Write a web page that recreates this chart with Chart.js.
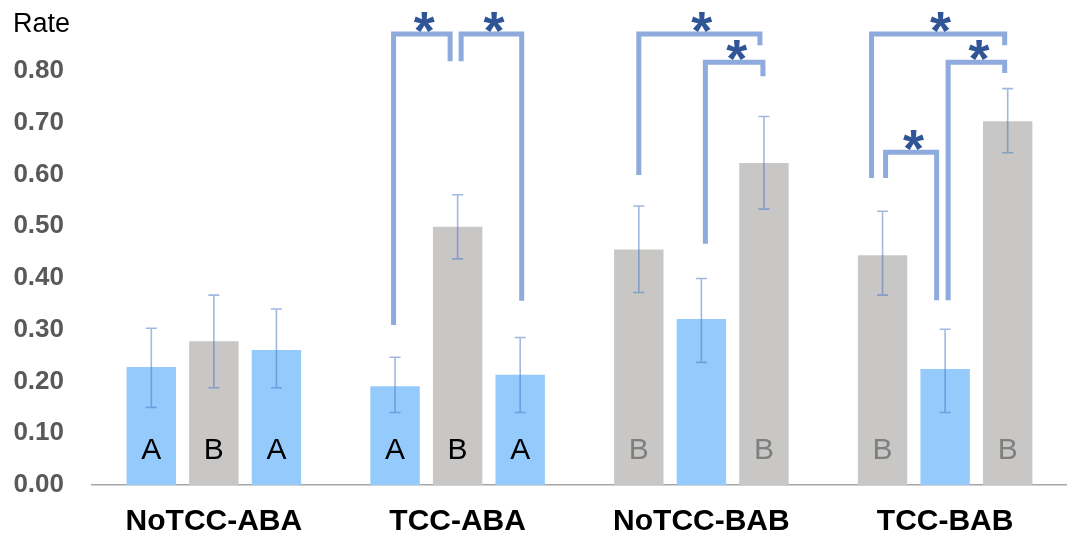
<!DOCTYPE html>
<html>
<head>
<meta charset="utf-8">
<script src="https://cdn.jsdelivr.net/npm/chart.js@4.4.1/dist/chart.umd.min.js"></script>
<style>
html,body{margin:0;padding:0;background:#ffffff;}
#wrap{width:1067px;height:538px;position:relative;}
</style>
</head>
<body>
<div id="wrap"><canvas id="c"></canvas></div>
<script>
// ---- data ----
const categories = ['NoTCC-ABA', 'TCC-ABA', 'NoTCC-BAB', 'TCC-BAB'];
const bar1Values = [0.228, 0.191, 0.455, 0.444];
const bar2Values = [0.278, 0.499, 0.321, 0.224];
const bar3Values = [0.261, 0.213, 0.622, 0.703];
// error whisker ends (upper / lower)
const bar1Upper = [0.303, 0.247, 0.539, 0.529];
const bar1Lower = [0.150, 0.140, 0.372, 0.367];
const bar2Upper = [0.367, 0.561, 0.399, 0.301];
const bar2Lower = [0.188, 0.437, 0.237, 0.140];
const bar3Upper = [0.340, 0.285, 0.712, 0.766];
const bar3Lower = [0.188, 0.140, 0.533, 0.642];
// letters inside bars
const bar1Letters = ['A', 'A', 'B', 'B'];
const bar2Letters = ['B', 'B', '', ''];
const bar3Letters = ['A', 'A', 'B', 'B'];
// y tick values
const yTicks = [0, 0.1, 0.2, 0.3, 0.4, 0.5, 0.6, 0.7, 0.8];
const yTitle = 'Rate';
// significance brackets: [dataset, group] of each leg, bracket level and leg end values
const brackets = [
  {left: [0, 1], right: [1, 1], level: 0.8715, leftEnd: 0.309, rightEnd: 0.819, label: '*'},
  {left: [1, 1], right: [2, 1], level: 0.8715, leftEnd: 0.819, rightEnd: 0.356, label: '*'},
  {left: [0, 2], right: [2, 2], level: 0.8715, leftEnd: 0.599, rightEnd: 0.850, label: '*'},
  {left: [1, 2], right: [2, 2], level: 0.817,  leftEnd: 0.466, rightEnd: 0.790, label: '*'},
  {left: [0, 3], right: [2, 3], level: 0.8715, leftEnd: 0.593, rightEnd: 0.850, label: '*'},
  {left: [1, 3], right: [2, 3], level: 0.817,  leftEnd: 0.357, rightEnd: 0.796, label: '*'},
  {left: [0, 3], right: [1, 3], level: 0.643,  leftEnd: 0.593, rightEnd: 0.357, label: '*'}
];

// ---- styles ----
const FONT = "'Liberation Sans', Arial, Helvetica, sans-serif";
const BLUE = '#95CBFC';
const GREY = '#C8C7C6';
// leg x offsets in pixels (style only), same order as brackets
const legOffsets = [[-1.5, -7.5], [3.5, 1.5], [0, -4], [4, -1], [-11, -3], [3, -3], [3, -8.5]];

const colorsFor = (blueFirst) => categories.map((_, i) => (i < 2) === blueFirst ? BLUE : GREY);

const upper = [bar1Upper, bar2Upper, bar3Upper];
const lower = [bar1Lower, bar2Lower, bar3Lower];
const letters = [bar1Letters, bar2Letters, bar3Letters];

const overlay = {
  id: 'overlay',
  afterDatasetsDraw(chart) {
    const ctx = chart.ctx;
    const y = chart.scales.y;
    const zero = y.getPixelForValue(0);
    ctx.save();
    // letters
    ctx.font = '30px ' + FONT;
    ctx.textAlign = 'center';
    ctx.textBaseline = 'alphabetic';
    for (let d = 0; d < 3; d++) {
      const meta = chart.getDatasetMeta(d);
      meta.data.forEach((el, i) => {
        const t = letters[d][i];
        if (!t) return;
        ctx.fillStyle = i < 2 ? '#000000' : '#7F7F7F';
        ctx.fillText(t, el.x, zero - 26.5);
      });
    }
    // error bars
    ctx.strokeStyle = 'rgba(68,114,196,0.5)';
    ctx.lineWidth = 1.6;
    for (let d = 0; d < 3; d++) {
      const meta = chart.getDatasetMeta(d);
      meta.data.forEach((el, i) => {
        const yt = y.getPixelForValue(upper[d][i]);
        const yb = y.getPixelForValue(lower[d][i]);
        ctx.beginPath();
        ctx.moveTo(el.x, yt); ctx.lineTo(el.x, yb);
        ctx.moveTo(el.x - 5.5, yt); ctx.lineTo(el.x + 5.5, yt);
        ctx.moveTo(el.x - 5.5, yb); ctx.lineTo(el.x + 5.5, yb);
        ctx.stroke();
      });
    }
    ctx.restore();
  },
  afterDraw(chart) {
    const ctx = chart.ctx;
    const y = chart.scales.y;
    ctx.save();
    // brackets
    ctx.strokeStyle = '#8FAADC';
    ctx.lineWidth = 5;
    ctx.lineCap = 'butt';
    ctx.lineJoin = 'miter';
    brackets.forEach((b, k) => {
      const xl = chart.getDatasetMeta(b.left[0]).data[b.left[1]].x + legOffsets[k][0];
      const xr = chart.getDatasetMeta(b.right[0]).data[b.right[1]].x + legOffsets[k][1];
      const yl = y.getPixelForValue(b.level);
      ctx.beginPath();
      ctx.moveTo(xl, y.getPixelForValue(b.leftEnd));
      ctx.lineTo(xl, yl);
      ctx.lineTo(xr, yl);
      ctx.lineTo(xr, y.getPixelForValue(b.rightEnd));
      ctx.stroke();
      // star
      ctx.font = 'bold 54px ' + FONT;
      ctx.fillStyle = '#2F5597';
      ctx.textAlign = 'center';
      ctx.textBaseline = 'alphabetic';
      const m = ctx.measureText(b.label);
      const cy = yl - 11.5;
      const base = cy + (m.actualBoundingBoxAscent - m.actualBoundingBoxDescent) / 2;
      ctx.fillText(b.label, (xl + xr) / 2 + 2.5, base);
    });
    // y title
    ctx.font = '27px ' + FONT;
    ctx.fillStyle = '#000000';
    ctx.textAlign = 'left';
    ctx.textBaseline = 'alphabetic';
    ctx.fillText(yTitle, 13, 32);
    ctx.restore();
  }
};

new Chart(document.getElementById('c'), {
  type: 'bar',
  data: {
    labels: categories,
    datasets: [
      {data: bar1Values, backgroundColor: colorsFor(true)},
      {data: bar2Values, backgroundColor: colorsFor(false)},
      {data: bar3Values, backgroundColor: colorsFor(true)}
    ]
  },
  options: {
    responsive: true,
    maintainAspectRatio: false,
    animation: false,
    devicePixelRatio: 1,
    datasets: {bar: {barPercentage: 0.79, categoryPercentage: 0.77, borderWidth: 0}},
    layout: {padding: {top: 71, left: 0, right: 0, bottom: 0}},
    plugins: {legend: {display: false}, tooltip: {enabled: false}, title: {display: false}},
    scales: {
      x: {
        grid: {display: false, drawTicks: false},
        border: {display: true, color: '#A6A6A6', width: 1.5},
        ticks: {color: '#000000', font: {family: FONT, size: 30, weight: 'bold'}, padding: 19, maxRotation: 0, autoSkip: false},
        afterFit: (s) => { s.height = 53; }
      },
      y: {
        min: 0, max: 0.8,
        grid: {display: false, drawTicks: false},
        border: {display: false},
        afterBuildTicks: (s) => { s.ticks = yTicks.map(v => ({value: v})); },
        ticks: {color: '#595959', font: {family: FONT, size: 26, weight: 'bold'}, padding: 28,
                callback: (v) => Number(v).toFixed(2)},
        afterFit: (s) => { s.width = 92; }
      }
    }
  },
  plugins: [overlay]
});
</script>
</body>
</html>
